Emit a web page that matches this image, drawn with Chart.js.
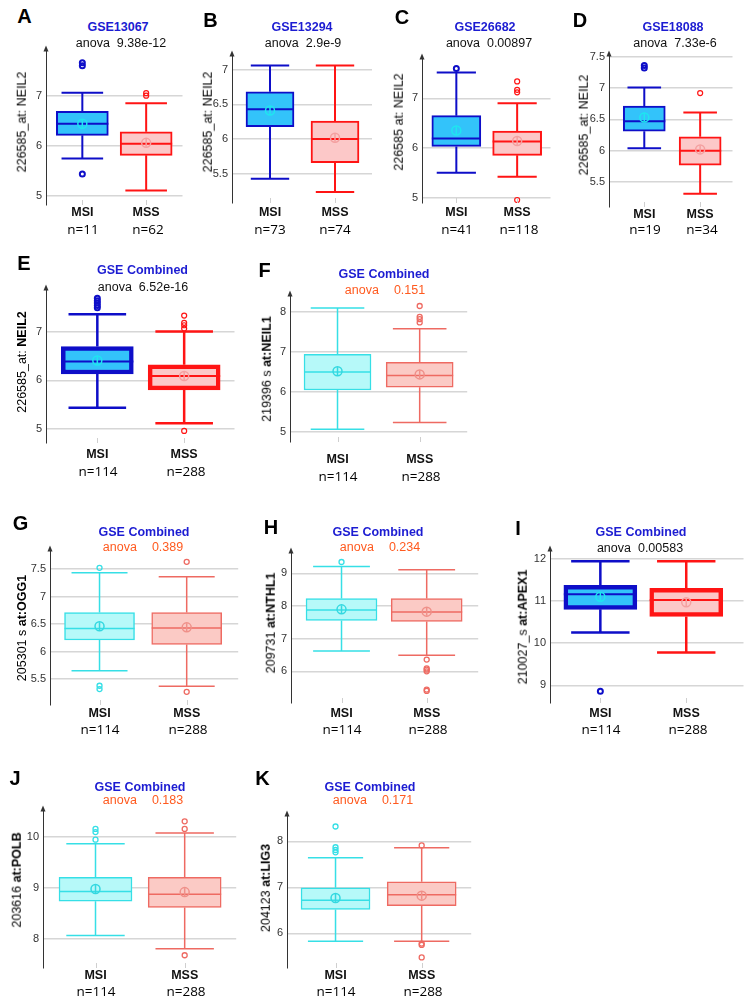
<!DOCTYPE html>
<html>
<head>
<meta charset="utf-8">
<script src="https://cdn.jsdelivr.net/npm/chart.js@4.4.1/dist/chart.umd.min.js"></script>
<style>
  body { margin:0; background:#fff; }
  #page { position:relative; width:747px; height:1007px; overflow:hidden; font-family:"Liberation Sans", Arial, sans-serif; }
  canvas { position:absolute; }
  .lbl { position:absolute; transform:translate(-50%,-50%); white-space:pre; line-height:1; color:#111; }
  .letter { font-weight:bold; font-size:20px; color:#000; }
  .ttl { font-weight:bold; font-size:12.5px; color:#1c1cd2; }
  .anova { font-size:12.5px; }
  .anova.ns { color:#ff5a1f; }
  .ytl { font-size:12.5px; color:#000; transform:translate(-50%,-50%) rotate(-90deg); }
  .ncount { font-family:"Open Sans", sans-serif; font-size:13.5px; color:#000; }
</style>
</head>
<body>
<div id="page"></div>
<script>
const categories = ['MSI', 'MSS'];
const panelLetters = ['A', 'B', 'C', 'D', 'E', 'F', 'G', 'H', 'I', 'J', 'K'];
const gseTitles = ['GSE13067', 'GSE13294', 'GSE26682', 'GSE18088', 'GSE Combined', 'GSE Combined',
  'GSE Combined', 'GSE Combined', 'GSE Combined', 'GSE Combined', 'GSE Combined'];
const anovaP = ['9.38e-12', '2.9e-9', '0.00897', '7.33e-6', '6.52e-16', '0.151', '0.389', '0.234', '0.00583', '0.183', '0.171'];
const yTitlePlain = ['226585_at: NEIL2', '226585_at: NEIL2', '226585 at: NEIL2', '226585_at: NEIL2', '226585_at: ',
  '219396 s ', '205301 s ', '209731 ', '210027_s ', '203616 ', '204123 '];
const yTitleBold = ['', '', '', '', 'NEIL2', 'at:NEIL1', 'at:OGG1', 'at:NTHL1', 'at:APEX1', 'at:POLB', 'at:LIG3'];
const sampleCounts = [[11, 62], [73, 74], [41, 118], [19, 34], [114, 288], [114, 288],
  [114, 288], [114, 288], [114, 288], [114, 288], [114, 288]];

// low whisker, Q1, median, Q3, high whisker
const msiBox = [
  [5.75, 6.21, 6.44, 6.69, 7.06], [5.43, 6.18, 6.43, 6.68, 7.06], [5.5, 6.03, 6.19, 6.65, 7.52],
  [6.04, 6.31, 6.47, 6.71, 7.01], [5.43, 6.13, 6.39, 6.70, 7.37], [5.07, 6.05, 6.5, 6.94, 8.1],
  [5.65, 6.21, 6.42, 6.71, 7.43], [6.62, 7.56, 7.88, 8.23, 9.21], [10.25, 10.8, 11.16, 11.37, 11.94],
  [8.07, 8.74, 8.93, 9.21, 9.87], [5.83, 6.52, 6.72, 6.99, 7.64]
];
const mssBox = [
  [5.11, 5.81, 6.04, 6.28, 6.85], [5.24, 5.66, 6.0, 6.26, 7.06], [5.42, 5.85, 6.13, 6.34, 6.9],
  [5.31, 5.77, 6.0, 6.22, 6.61], [5.11, 5.8, 6.09, 6.32, 7.01], [5.24, 6.12, 6.41, 6.74, 7.58],
  [5.37, 6.13, 6.43, 6.71, 7.36], [6.49, 7.53, 7.82, 8.23, 9.11], [9.78, 10.63, 11.02, 11.3, 11.94],
  [7.81, 8.62, 8.88, 9.21, 10.08], [5.83, 6.6, 6.84, 7.12, 7.86]
];
const msiMean = [6.44, 6.41, 6.35, 6.53, 6.41, 6.52, 6.46, 7.9, 11.1, 8.98, 6.77];
const mssMean = [6.06, 6.02, 6.14, 6.02, 6.09, 6.44, 6.44, 7.83, 10.97, 8.92, 6.82];
const msiOutliers = [
  [5.44, 7.6, 7.66], [], [7.6], [7.32, 7.36], [7.5, 7.55, 7.6, 7.65, 7.7], [],
  [5.32, 5.38, 7.52], [9.35], [8.86], [9.95, 10.1, 10.16], [7.76, 7.81, 7.87, 8.32]
];
const mssOutliers = [
  [7.0, 7.05], [], [4.95, 7.12, 7.17, 7.34], [6.92], [4.95, 7.07, 7.14, 7.19, 7.34], [7.74, 7.82, 7.88, 8.15],
  [5.27, 7.63], [5.4, 5.44, 6.0, 6.05, 6.09, 6.36], [], [7.68, 10.16, 10.31], [5.48, 5.75, 5.78, 7.91]
];
const yTicks = [
  [5, 6, 7], [5.5, 6, 6.5, 7], [5, 6, 7], [5.5, 6, 6.5, 7, 7.5], [5, 6, 7], [5, 6, 7, 8],
  [5.5, 6, 6.5, 7, 7.5], [6, 7, 8, 9], [9, 10, 11, 12], [8, 9, 10], [6, 7, 8]
];
const yLimits = [
  [4.82, 7.94], [5.08, 7.23], [4.89, 7.84], [5.10, 7.55], [4.70, 7.92], [4.75, 8.46],
  [5.03, 7.87], [5.03, 9.70], [8.58, 12.24], [7.43, 10.56], [5.25, 8.60]
];

// page layout of each panel (pixels)
const panels = [
  { style:'dark', left:46, top:48, bottom:205, right:185, msiX:83, mssX:148, box:52, labelY:213, nY:230, letter:[24.5,16], title:[118,27], anova:[121,43], yTitle:[22,122] },
  { style:'dark', left:232, top:53, bottom:203, right:372, msiX:270, mssX:335, box:48, labelY:213, nY:230, letter:[210.5,19.5], title:[302,27], anova:[303,43], yTitle:[208,122] },
  { style:'dark', left:422, top:56, bottom:203, right:553, msiX:457, mssX:519, box:49, labelY:213, nY:230, letter:[402,17], title:[485,27], anova:[489,43], yTitle:[399,122] },
  { style:'dark', left:609, top:53, bottom:207, right:735, msiX:645, mssX:702, box:42, labelY:213, nY:230, letter:[580,19.5], title:[673,27], anova:[675,43], yTitle:[584,125] },
  { style:'bold', left:46, top:287, bottom:443, right:237, msiX:98, mssX:186, box:72, labelY:455, nY:472, letter:[24,263], title:[142.5,270], anova:[143,287], yTitle:[22,362] },
  { style:'light', left:290, top:293, bottom:442, right:469, msiX:338, mssX:421, box:67, labelY:460, nY:477, letter:[264.5,270], title:[384,274], anova:[385,290], yTitle:[267,369] },
  { style:'light', left:50, top:548, bottom:705, right:240, msiX:100, mssX:188, box:70, labelY:714, nY:730, letter:[20.5,523], title:[144,532], anova:[143,547], yTitle:[22,628] },
  { style:'light', left:291, top:550, bottom:703, right:480, msiX:342, mssX:428, box:71, labelY:714, nY:730, letter:[271,527], title:[378,532], anova:[380,547], yTitle:[271,623] },
  { style:'bold', left:550, top:548, bottom:703, right:746, msiX:601, mssX:688, box:73, labelY:714, nY:730, letter:[518,528], title:[641,532], anova:[640,548], yTitle:[523,627] },
  { style:'light', left:43, top:808, bottom:968, right:238, msiX:96, mssX:186, box:73, labelY:975, nY:992, letter:[15,778], title:[140,787], anova:[143,800], yTitle:[17,880] },
  { style:'light', left:287, top:813, bottom:968, right:473, msiX:336, mssX:423, box:69, labelY:975, nY:992, letter:[262.5,778], title:[370,787], anova:[373,800], yTitle:[266,888] }
];

const looks = {
  dark:  { fill:['#33c3fa', '#fcc8c8'], line:['#0e0ec8', '#ff1414'], mean:['#1ee6f0', '#f4a0a0'], boxW:2, lineW:2, medW:2, outW:[2, 1.2] },
  bold:  { fill:['#33c3fa', '#fcc8c8'], line:['#0e0ec8', '#ff1414'], mean:['#1ee6f0', '#f4a0a0'], boxW:4.5, lineW:2.5, medW:2, outW:[2, 1.2] },
  light: { fill:['#b6f9f9', '#fbcac5'], line:['#36dfe6', '#ee6a62'], mean:['#33d8e0', '#ef9089'], boxW:1.5, lineW:1.5, medW:1.5, outW:[1.3, 1.3] }
};

Chart.defaults.font.family = '"Liberation Sans", Arial, sans-serif';

// whiskers, caps, medians, mean markers and the axis arrow
const boxParts = {
  id: 'boxParts',
  afterDatasetsDraw(chart, args, opts) {
    const { ctx, chartArea: a, scales: { x, y } } = chart;
    const i = opts.panel, p = panels[i], lk = looks[p.style];
    const groups = [msiBox[i], mssBox[i]];
    const means = [msiMean[i], mssMean[i]];
    ctx.save();
    ctx.strokeStyle = '#cfcfcf'; ctx.lineWidth = 1;
    categories.forEach((c, g) => {
      const px = Math.round(x.getPixelForValue(g)) + 0.5;
      ctx.beginPath(); ctx.moveTo(px, a.bottom - 5); ctx.lineTo(px, a.bottom); ctx.stroke();
    });
    groups.forEach((b, g) => {
      const cx = x.getPixelForValue(g);
      const cap = p.box * 0.4, half = p.box / 2;
      const py = v => y.getPixelForValue(v);
      ctx.strokeStyle = lk.line[g]; ctx.lineWidth = lk.lineW;
      ctx.beginPath();
      ctx.moveTo(cx, py(b[0])); ctx.lineTo(cx, py(b[1]));
      ctx.moveTo(cx, py(b[3])); ctx.lineTo(cx, py(b[4]));
      ctx.moveTo(cx - cap, py(b[0])); ctx.lineTo(cx + cap, py(b[0]));
      ctx.moveTo(cx - cap, py(b[4])); ctx.lineTo(cx + cap, py(b[4]));
      ctx.stroke();
      ctx.lineWidth = lk.medW;
      ctx.beginPath(); ctx.moveTo(cx - half, py(b[2])); ctx.lineTo(cx + half, py(b[2])); ctx.stroke();
      const my = py(means[g]);
      ctx.strokeStyle = lk.mean[g]; ctx.lineWidth = 1.5;
      ctx.beginPath(); ctx.arc(cx, my, 4.5, 0, Math.PI * 2); ctx.stroke();
      ctx.beginPath(); ctx.moveTo(cx, my - 4); ctx.lineTo(cx, my + 4); ctx.stroke();
    });
    ctx.fillStyle = '#333';
    ctx.beginPath();
    ctx.moveTo(a.left, a.top - 3); ctx.lineTo(a.left - 2.5, a.top + 3); ctx.lineTo(a.left + 2.5, a.top + 3);
    ctx.closePath(); ctx.fill();
    ctx.restore();
  }
};

const page = document.getElementById('page');

function addText(cls, x, y, html) {
  const d = document.createElement('div');
  d.className = 'lbl ' + cls;
  d.style.left = x + 'px'; d.style.top = y + 'px';
  d.innerHTML = html;
  page.appendChild(d);
}

panels.forEach((p, i) => {
  const YW = 40, PT = 10, XH = 30, PR = 2;
  const lk = looks[p.style];
  const cv = document.createElement('canvas');
  const w = p.right - p.left + YW + PR, h = p.bottom - p.top + PT + XH;
  cv.width = w; cv.height = h;
  cv.style.left = (p.left - YW) + 'px'; cv.style.top = (p.top - PT) + 'px';
  cv.style.width = w + 'px'; cv.style.height = h + 'px';
  page.appendChild(cv);

  const span = p.mssX - p.msiX;
  const boxes = [msiBox[i], mssBox[i]];
  const outlierSet = (vals, g) => ({
    type: 'line', showLine: false,
    data: vals.map(v => ({ x: g, y: v })),
    pointRadius: 2.5, pointHoverRadius: 2.5,
    pointBorderColor: lk.line[g], pointBackgroundColor: 'rgba(255,255,255,0)',
    pointBorderWidth: lk.outW[g]
  });

  new Chart(cv, {
    type: 'bar',
    data: {
      datasets: [
        {
          type: 'bar',
          data: categories.map((c, g) => ({ x: g, y: [boxes[g][1], boxes[g][3]] })),
          backgroundColor: lk.fill, borderColor: lk.line,
          borderWidth: lk.boxW, borderSkipped: false, barThickness: p.box
        },
        outlierSet(msiOutliers[i], 0),
        outlierSet(mssOutliers[i], 1)
      ]
    },
    options: {
      responsive: false, animation: false, devicePixelRatio: 1,
      layout: { padding: { top: PT, right: PR, left: 0, bottom: 0 } },
      plugins: { legend: { display: false }, tooltip: { enabled: false }, boxParts: { panel: i } },
      scales: {
        x: {
          type: 'linear', offset: false,
          min: -(p.msiX - p.left) / span, max: 1 + (p.right - p.mssX) / span,
          afterBuildTicks: s => { s.ticks = categories.map((c, g) => ({ value: g })); },
          afterFit: s => { s.height = XH; },
          ticks: {
            callback: v => categories[v],
            font: { size: 12.5, weight: 'bold' }, color: '#111',
            padding: Math.max(0, p.labelY - p.bottom - 7.5), maxRotation: 0
          },
          grid: { display: false, drawTicks: false },
          border: { display: false }
        },
        y: {
          min: yLimits[i][0], max: yLimits[i][1], beginAtZero: false,
          afterBuildTicks: s => { s.ticks = yTicks[i].map(v => ({ value: v })); },
          afterFit: s => { s.width = YW; },
          ticks: { callback: v => String(v), font: { size: 11 }, color: '#333', padding: 4 },
          grid: { color: '#d6d6d6', lineWidth: 1.5, drawTicks: false },
          border: { color: '#333', width: 1 }
        }
      }
    },
    plugins: [boxParts]
  });

  const sig = p.style !== 'light';
  addText('letter', p.letter[0], p.letter[1], panelLetters[i]);
  addText('ttl', p.title[0], p.title[1], gseTitles[i]);
  addText('anova' + (sig ? '' : ' ns'), p.anova[0], p.anova[1],
    'anova<span style="margin-left:' + (sig ? 7 : 15) + 'px">' + anovaP[i] + '</span>');
  addText('ytl', p.yTitle[0], p.yTitle[1], yTitlePlain[i] + (yTitleBold[i] ? '<b>' + yTitleBold[i] + '</b>' : ''));
  addText('ncount', p.msiX, p.nY, 'n=' + sampleCounts[i][0]);
  addText('ncount', p.mssX, p.nY, 'n=' + sampleCounts[i][1]);
});
</script>
</body>
</html>
